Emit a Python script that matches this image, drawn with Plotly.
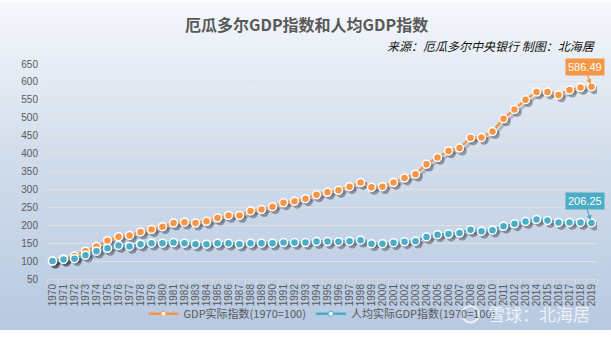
import base64
import plotly.graph_objects as go

# Ecuador: real GDP index and real GDP-per-capita index (1970 = 100)
years = list(range(1970, 2020))
gdp_index = [
    100, 106, 114, 127.5, 141, 157, 168, 171.6, 181.5, 187.8,
    196, 206, 208.6, 206, 211, 220, 227.5, 227.5, 240, 243.7,
    251.8, 262.7, 267, 274, 285, 292, 297.5, 307.6, 319.2, 305.7,
    307.6, 319.2, 331.8, 342.6, 370.4, 389.3, 407.4, 415.4, 444, 445,
    461.3, 497, 523.3, 550.2, 571.8, 571.8, 563.7, 577.2, 584.3, 586.49,
]
gdp_pc_index = [
    100, 104.5, 106.5, 116.5, 127.5, 135.5, 143.5, 141, 147.3, 150,
    150, 151.8, 150, 147.3, 147.3, 150, 150, 147.3, 150, 150,
    150, 151.8, 151.8, 151.8, 154.5, 154.5, 154, 155.6, 158.3, 148.5,
    148.5, 151.2, 153.9, 155.6, 167.4, 173.6, 175.5, 178.2, 187.1, 183.6,
    186.3, 197.1, 204.1, 210.5, 215.9, 213.2, 207.8, 207.8, 207.8, 206.25,
]
series_names = ["GDP实际指数(1970=100)", "人均实际GDP指数(1970=100)"]
y_ticks = list(range(50, 651, 50))

W, H = 611, 340
ML, MR, MT, MB = 47, 14, 64, 53
PW, PH = W - ML - MR, H - MT - MB
Y_MIN, Y_MAX = 50, 650
units_per_px = (Y_MAX - Y_MIN) / PH

ORANGE = "#f79646"
TEAL = "#4bacc6"
GREY_TEXT = "#595959"

# vertical background gradient as an inline SVG
svg = (
    '<svg xmlns="http://www.w3.org/2000/svg" width="100" height="100" preserveAspectRatio="none">'
    '<defs><linearGradient id="g" x1="0" y1="0" x2="0" y2="1">'
    '<stop offset="0" stop-color="#f5f8fc"/>'
    '<stop offset="0.45" stop-color="#d3deec"/>'
    '<stop offset="1" stop-color="#b7c9e1"/>'
    '</linearGradient></defs>'
    '<rect width="100" height="100" fill="url(#g)"/></svg>'
)
bg_src = "data:image/svg+xml;base64," + base64.b64encode(svg.encode()).decode()

fig = go.Figure()

# soft drop shadows under both series
shadow_dx = 0.25
shadow_dy = 3 * units_per_px
for vals in (gdp_index, gdp_pc_index):
    fig.add_trace(go.Scatter(
        x=[x + shadow_dx for x in years],
        y=[v - shadow_dy for v in vals],
        mode="lines+markers",
        line=dict(color="rgba(30,30,40,0.22)", width=3),
        marker=dict(size=9, color="rgba(30,30,40,0.38)", line=dict(width=0)),
        hoverinfo="skip",
        showlegend=False,
    ))

for i, (name, vals, col) in enumerate(((series_names[0], gdp_index, ORANGE),
                                       (series_names[1], gdp_pc_index, TEAL))):
    fig.add_trace(go.Scatter(
        x=years, y=vals, name=name, legendgroup=f"s{i}",
        mode="lines+markers",
        line=dict(color=col, width=2.5),
        marker=dict(size=8, color=col, line=dict(color="white", width=1.5)),
        showlegend=False,
    ))
    # legend entry with a small hollow marker
    fig.add_trace(go.Scatter(
        x=[None], y=[None], name=name, legendgroup=f"s{i}",
        mode="lines+markers",
        line=dict(color=col, width=2.5),
        marker=dict(size=5, color="white", line=dict(color=col, width=1)),
        showlegend=True,
    ))

# value callouts on the last point of each series
for vals, col, ay in ((gdp_index, ORANGE, -20), (gdp_pc_index, TEAL, -22)):
    fig.add_annotation(
        x=years[-1], y=vals[-1], xref="x", yref="y",
        text=f"{vals[-1]:.2f}",
        showarrow=True, arrowhead=2, arrowsize=0.8, arrowwidth=1.2, arrowcolor=col,
        ax=-7, ay=ay, standoff=3,
        bgcolor=col, borderpad=2,
        font=dict(family="Liberation Sans, Arial", size=11, color="white"),
    )

fig.add_layout_image(dict(
    source=bg_src, xref="paper", yref="paper",
    x=-ML / PW, y=1 + MT / PH, sizex=W / PW, sizey=H / PH,
    xanchor="left", yanchor="top", sizing="stretch", layer="below",
))

fig.add_annotation(
    text="<b>厄瓜多尔GDP指数和人均GDP指数</b>",
    xref="paper", yref="paper", x=(306 - ML) / PW, y=1 + (MT - 22) / PH,
    xanchor="center", yanchor="middle", showarrow=False,
    font=dict(family="Noto Sans CJK SC", size=16, color=GREY_TEXT),
)
fig.add_annotation(
    text="<i>来源：厄瓜多尔中央银行 制图：北海居</i>",
    xref="paper", yref="paper", x=1.0, y=1 + (MT - 45) / PH,
    xanchor="right", yanchor="middle", showarrow=False,
    font=dict(family="Noto Sans CJK SC", size=12, color="#111111"),
)
fig.add_annotation(
    text="雪球：北海居",
    xref="paper", yref="paper", x=(486 - ML) / PW, y=-(323 - MT - PH) / PH,
    xanchor="left", yanchor="middle", showarrow=False,
    font=dict(family="Noto Sans CJK SC", size=17, color="rgba(255,255,255,0.75)"),
)
fig.add_shape(
    type="circle", xref="paper", yref="paper",
    x0=(462 - ML) / PW, x1=(479 - ML) / PW,
    y0=-(332 - MT - PH) / PH, y1=-(315 - MT - PH) / PH,
    line=dict(color="rgba(255,255,255,0.75)", width=2),
)

fig.update_layout(
    width=W, height=H,
    margin=dict(l=ML, r=MR, t=MT, b=MB),
    paper_bgcolor="rgba(0,0,0,0)",
    plot_bgcolor="rgba(0,0,0,0)",
    font=dict(family="Liberation Sans, Arial", color=GREY_TEXT),
    showlegend=True,
    legend=dict(
        orientation="h", x=0.5, xanchor="center", y=-(323 - MT - PH) / PH, yanchor="middle",
        font=dict(family="Noto Sans CJK SC", size=11, color=GREY_TEXT),
        itemwidth=30, bgcolor="rgba(0,0,0,0)", traceorder="normal",
    ),
    xaxis=dict(
        range=[years[0] - 0.5, years[-1] + 0.5],
        tickmode="array", tickvals=years, ticktext=[str(y) for y in years],
        tickangle=-90, tickfont=dict(size=10, color=GREY_TEXT),
        ticks="", showgrid=False, zeroline=False,
        showline=True, linecolor="#d9d9d9", linewidth=1,
        minor=dict(tickvals=[y + 0.5 for y in [years[0] - 1] + years], ticks="outside",
                   ticklen=4, tickcolor="#d9d9d9", showgrid=False),
    ),
    yaxis=dict(
        range=[Y_MIN, Y_MAX], tickmode="array", tickvals=y_ticks,
        tickfont=dict(size=10, color=GREY_TEXT),
        showgrid=True, gridcolor="rgba(225,225,225,0.9)", gridwidth=1,
        zeroline=False, showline=False, ticks="", ticklabelstandoff=8,
    ),
    hovermode=False,
)

fig.write_html("out.html")
